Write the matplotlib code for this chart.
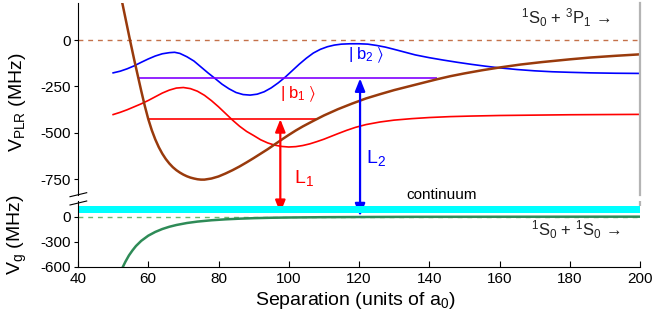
import matplotlib
matplotlib.use("Agg")
import matplotlib.pyplot as plt
from matplotlib.lines import Line2D

plt.rcParams['font.family'] = ['Liberation Sans', 'DejaVu Sans']
plt.rcParams['mathtext.fontset'] = 'custom'
plt.rcParams['mathtext.rm'] = 'Liberation Sans'
plt.rcParams['mathtext.it'] = 'Liberation Sans:italic'
plt.rcParams['mathtext.default'] = 'regular'
plt.rcParams['axes.unicode_minus'] = False

# ---------------- data ----------------
# excited-state (PLR) potential, brown
brown_x = [52.6, 54.8, 56.0, 57.0, 58.0, 59.0, 60.0, 61.0, 62.0, 63.0, 64.0, 65.0, 66.0,
           67.0, 68.0, 69.0, 70.0, 71.0, 72.0, 73.0, 74.0, 75.0, 76.0, 78.0, 80.0, 82.0,
           84.0, 86.0, 88.0, 90.0, 92.0, 94.0, 96.0, 98.0, 100.0, 102.0, 104.0, 107.0,
           110.0, 114.0, 118.0, 122.0, 126.0, 130.0, 135.0, 140.0, 142.1, 146.0, 150.0,
           155.0, 160.0, 166.0, 172.0, 180.0, 186.0, 193.0, 200.0]
brown_y = [201, 0, -106, -190, -274, -354, -426, -486, -536, -578, -613, -642, -666,
           -686, -702, -715, -726, -735, -742, -747, -751, -753, -753, -747, -736, -720,
           -702, -682, -660, -637, -613, -589, -563, -537, -512, -488, -466, -436,
           -407, -373, -343, -315, -292, -270, -246, -222, -212, -195, -180,
           -163, -148, -132, -119, -104, -94, -85, -77]

# |b2> potential, blue
blue_x = [50, 52, 54, 56, 58, 60, 62, 64, 66, 67.5, 69, 71, 73, 75, 77, 79, 81, 83, 85,
          87, 89, 91, 93, 95, 97, 99, 101, 103, 105, 107, 109, 111, 113, 115, 117.5, 120,
          122.5, 125, 127.5, 130, 133, 136, 140, 144, 148, 152, 156, 160, 165, 170, 175,
          180, 186, 193, 200]
blue_y = [-177, -168, -155, -139, -120, -102, -86, -74, -68, -66, -72, -90, -113, -145,
          -177, -207, -238, -263, -283, -294, -297, -292, -279, -258, -231, -200, -165,
          -130, -98, -70, -50, -36, -27, -22, -20, -20, -22, -29, -38, -50, -65, -80, -95,
          -108, -120, -131, -141, -150, -159, -166, -171, -174, -177, -179, -180]

# |b1> potential, red
red_x = [50, 52, 54, 56, 58, 60, 62, 64, 66, 68, 70, 72, 74, 76, 78, 80, 82, 84, 86, 88,
         90, 92, 94, 96, 98, 100, 102, 104, 106, 108, 110, 112, 114, 116.5, 119, 122, 126,
         130, 135, 140, 146, 152, 160, 170, 180, 190, 200]
red_y = [-402, -390, -376, -360, -344, -326, -306, -286, -270, -259, -256, -262, -276,
         -298, -327, -360, -396, -432, -465, -493, -515, -538, -555, -567, -574, -577,
         -575, -569, -560, -548, -535, -520, -505, -487, -471, -456, -442, -432, -424,
         -418, -413, -410, -407, -405, -403, -402, -401]

# bound levels
b1_level, b1_x = -427, [60.0, 108.0]
b2_level, b2_x = -207, [57.2, 142.1]

# ground-state potential, green
green_x = [52.8, 53.5, 54.5, 55.5, 56.5, 58, 60, 62, 64, 66, 68, 71, 74, 78, 82, 86, 90,
           95, 100, 110, 120, 135, 160, 200]
green_y = [-600, -540, -465, -405, -352, -290, -228, -183, -148, -121, -100, -76, -59,
           -43, -32, -24, -18, -13, -10, -6, -4, -2, -1, 0]

continuum_band = [40, 130]
L1_x, L1_bottom = 97.6, 45
L2_x, L2_bottom = 120.3, 5

top_yticks = [0, -250, -500, -750]
bot_yticks = [0, -300, -600]
xticks = [40, 60, 80, 100, 120, 140, 160, 180, 200]

# ---------------- figure ----------------
W, H = 653, 324
fig = plt.figure(figsize=(W / 100, H / 100), dpi=100)

def fx(px):
    return px / W

def fy(py):
    return 1 - py / H

L, R = 78, 640
ax1 = fig.add_axes([fx(L), fy(195), fx(R - L), (195 - 3) / H])
ax2 = fig.add_axes([fx(L), fy(266.7), fx(R - L), (266.7 - 201) / H])

BROWN = '#993a0c'
for ax in (ax1, ax2):
    ax.set_xlim(40, 200)
    ax.spines['top'].set_visible(False)
    ax.patch.set_alpha(0)

ax1.set_ylim(-836, 200)
ax2.set_ylim(-600, 188)

# top panel
ax1.axhline(0, color='#c4714a', lw=1.0, ls=(0, (3.5, 3.5)))
ax1.plot(blue_x, blue_y, color='#0000ff', lw=1.2)
ax1.plot(red_x, red_y, color='#ff0000', lw=1.2)
ax1.hlines(b2_level, b2_x[0], b2_x[1], color='#8000ff', lw=1.2)
ax1.hlines(b1_level, b1_x[0], b1_x[1], color='#ff0000', lw=1.2)
ax1.plot(brown_x, brown_y, color=BROWN, lw=1.8)

ax1.spines['bottom'].set_visible(False)
ax1.spines['right'].set_color('#b4b4b4')
ax1.spines['right'].set_linewidth(1.6)
ax1.set_xticks([])
ax1.set_yticks(top_yticks)
ax1.tick_params(axis='y', direction='out', length=3, pad=2, labelsize=11, width=0.8)
ax1.spines['left'].set_linewidth(0.8)

# bottom panel
ax2.axhspan(continuum_band[0], continuum_band[1], color='#00ffff', lw=0)
ax2.axhline(0, color='#6cbb6c', lw=1.0, ls=(0, (3.5, 3.5)))
ax2.plot(green_x, green_y, color='#2e8b57', lw=1.8)
ax2.spines['right'].set_visible(False)
ax2.vlines(200, continuum_band[1], 188, color='#b4b4b4', lw=1.6, clip_on=False)
ax2.set_xticks(xticks)
ax2.set_yticks(bot_yticks)
ax2.tick_params(axis='y', direction='out', length=3, pad=2, labelsize=11, width=0.8)
ax2.tick_params(axis='x', direction='in', length=4, pad=4, labelsize=11, width=0.8)
ax2.spines['left'].set_linewidth(0.8)
ax2.spines['bottom'].set_linewidth(0.8)

# arrows spanning both panels
for xx, ybot, yt, col in [(L1_x, L1_bottom, b1_level, '#ff0000'), (L2_x, L2_bottom, b2_level, '#0000ff')]:
    ax1.annotate('', xy=(xx, yt), xycoords='data',
                 xytext=(xx, ybot), textcoords=ax2.transData,
                 arrowprops=dict(arrowstyle='<|-|>,head_length=0.75,head_width=0.3',
                                 color=col, lw=1.6, shrinkA=0, shrinkB=0),
                 annotation_clip=False)

# labels inside
ax1.text(101.4, -742, r'L$_1$', color='#ff0000', fontsize=14, ha='left', va='center')
ax1.text(122.1, -637, r'L$_2$', color='#0000ff', fontsize=14, ha='left', va='center')
ax1.text(97.4, -292, r'$|\;b_1\;\rangle$', color='#ff0000', fontsize=12, ha='left', va='center')
ax1.text(116.8, -84, r'$|\;b_2\;\rangle$', color='#0000ff', fontsize=12, ha='left', va='center')
ax1.text(166.2, 121, r'$^1$S$_0$ + $^3$P$_1$ →', color='#222222', fontsize=12,
         ha='left', va='center')
ax2.text(169.0, -160, r'$^1$S$_0$ + $^1$S$_0$ →', color='#222222', fontsize=12,
         ha='left', va='center')
ax2.text(133.5, 260, 'continuum', color='black', fontsize=11, ha='left', va='center',
         clip_on=False)

# axis labels
fig.text(fx(18), fy(102), r'V$_{PLR}$ (MHz)', rotation=90, ha='center', va='center', fontsize=14)
fig.text(fx(17), fy(235), r'V$_g$ (MHz)', rotation=90, ha='center', va='center', fontsize=14)
fig.text(fx(355), fy(305), r'Separation (units of a$_0$)', ha='center', va='baseline', fontsize=14)

# axis break marks
for y0 in (196.7, 205.0):
    fig.add_artist(Line2D([fx(70), fx(86.7)], [fy(y0), fy(y0 - 4)], color='black', lw=0.8))

fig.savefig('out.png', dpi=100)
